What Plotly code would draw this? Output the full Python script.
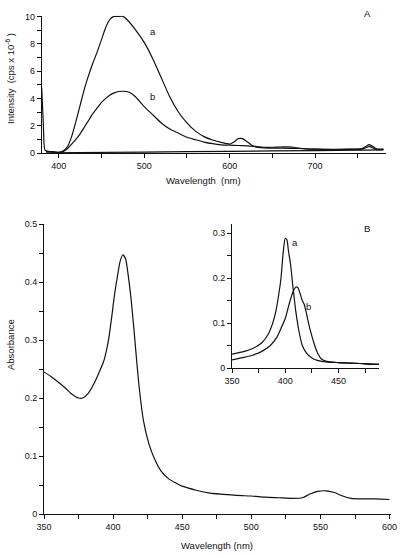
import plotly.graph_objects as go

W, H = 406, 557

# ---------------- Panel A: fluorescence emission ----------------
a_wl = [380, 382, 384, 390, 400, 405, 410, 415, 420, 425, 430, 435, 440, 445, 450, 455, 460, 465, 470,
        475, 480, 490, 500, 510, 520, 530, 540, 550, 560, 570, 580, 590, 600, 605, 610, 615, 620, 625,
        630, 640, 660, 680, 700, 720, 740, 755, 760, 763, 767, 772, 780]
a_int = [4.8, 2.0, 0.2, 0.1, 0.05, 0.15, 0.45, 1.2, 2.3, 3.5, 4.7, 5.7, 6.6, 7.4, 8.3, 9.2, 9.8, 10.0, 10.0,
         10.0, 9.75, 9.0, 8.1, 6.9, 5.5, 4.1, 3.0, 2.2, 1.6, 1.2, 0.95, 0.78, 0.65, 0.8, 1.05, 1.05, 0.85, 0.6,
         0.45, 0.38, 0.35, 0.33, 0.28, 0.27, 0.28, 0.32, 0.5, 0.62, 0.5, 0.3, 0.3]

b_wl = [385, 395, 400, 405, 410, 415, 420, 425, 430, 435, 440, 445, 450, 455, 460, 465, 470, 475, 480,
        485, 490, 500, 510, 520, 530, 540, 550, 560, 570, 580, 590, 600, 610, 620, 630, 640, 650, 660,
        670, 675, 685, 700, 720, 740, 755, 760, 763, 767, 772, 780]
b_int = [0.12, 0.08, 0.05, 0.1, 0.3, 0.65, 1.0, 1.4, 1.9, 2.4, 2.9, 3.3, 3.7, 4.0, 4.25, 4.4, 4.5, 4.52, 4.5,
         4.35, 4.1, 3.4, 2.8, 2.2, 1.75, 1.45, 1.15, 0.97, 0.8, 0.68, 0.6, 0.57, 0.55, 0.52, 0.48, 0.42, 0.42, 0.44,
         0.45, 0.42, 0.33, 0.28, 0.25, 0.26, 0.28, 0.4, 0.48, 0.38, 0.25, 0.25]

base_wl = [385, 500, 600, 700, 780]
base_int = [0.02, 0.07, 0.12, 0.18, 0.23]

# ---------------- Panel B: absorbance ----------------
abs_wl = [350, 355, 360, 365, 370, 375, 378, 382, 386, 390, 393, 395, 397, 399, 401, 403, 405, 407, 409,
          411, 413, 415, 417, 419, 422, 426, 430, 435, 440, 445, 450, 460, 470, 480, 490, 500, 510,
          520, 530, 537, 542, 548, 554, 560, 566, 572, 580, 590, 600]
abs_val = [0.245, 0.237, 0.228, 0.218, 0.207, 0.200, 0.200, 0.208, 0.224, 0.245, 0.262, 0.28, 0.305, 0.34,
           0.378, 0.408, 0.435, 0.447, 0.44, 0.41, 0.37, 0.32, 0.265, 0.215, 0.16, 0.12, 0.095, 0.073,
           0.061, 0.054, 0.048, 0.041, 0.036, 0.034, 0.032, 0.031, 0.029, 0.028, 0.027, 0.028, 0.034, 0.039,
           0.04, 0.037, 0.031, 0.027, 0.026, 0.026, 0.025]

ia_wl = [350, 360, 370, 378, 384, 388, 391, 394, 396, 398, 400, 401.5, 403, 405, 407, 410, 413, 416, 420,
         425, 430, 440, 450, 460, 470, 480, 488]
ia_val = [0.031, 0.036, 0.044, 0.056, 0.075, 0.098, 0.124, 0.165, 0.2, 0.255, 0.288, 0.285, 0.26, 0.23,
          0.185, 0.124, 0.08, 0.05, 0.033, 0.022, 0.017, 0.013, 0.012, 0.011, 0.01, 0.008, 0.008]

ib_wl = [350, 360, 370, 378, 386, 392, 396, 400, 404, 407, 410, 412, 414, 416, 418, 420, 422, 424, 427,
         430, 434, 440, 450, 460, 470, 480, 488]
ib_val = [0.018, 0.023, 0.029, 0.037, 0.05, 0.068, 0.088, 0.11, 0.145, 0.168, 0.18, 0.178, 0.165, 0.15,
          0.14, 0.12, 0.098, 0.079, 0.055, 0.035, 0.02, 0.014, 0.012, 0.011, 0.01, 0.009, 0.008]

FONT = "Liberation Sans, Arial, sans-serif"
INK = "#111"


def px_x(p):
    return p / W


def px_y(p):
    return 1 - p / H


fig = go.Figure()
for xs, ys, ax in [(a_wl, a_int, ("x", "y")), (b_wl, b_int, ("x", "y")), (base_wl, base_int, ("x", "y")),
                   (abs_wl, abs_val, ("x2", "y2")), (ia_wl, ia_val, ("x3", "y3")), (ib_wl, ib_val, ("x3", "y3"))]:
    fig.add_trace(go.Scatter(x=xs, y=ys, mode="lines", line=dict(color=INK, width=1.2, shape="spline", smoothing=0.6),
                             xaxis=ax[0], yaxis=ax[1], showlegend=False, hoverinfo="skip"))


def axis(domain, rng, dtick, minor, anchor, tick0=None):
    d = dict(domain=domain, range=rng, dtick=dtick, showline=True, linecolor=INK, linewidth=1,
             ticks="outside", ticklen=4, tickcolor=INK, tickwidth=1, showgrid=False, zeroline=False,
             automargin=False, anchor=anchor,
             tickfont=dict(family=FONT, size=9, color=INK),
             minor=dict(dtick=minor, ticks="outside", ticklen=4, tickcolor=INK, tickwidth=1, showgrid=False))
    if tick0 is not None:
        d["tick0"] = tick0
    return d


fig.update_layout(
    template="none",
    width=W, height=H, margin=dict(l=0, r=0, t=0, b=0, pad=0), autosize=False,
    paper_bgcolor="white", plot_bgcolor="rgba(0,0,0,0)",
    xaxis=axis([px_x(41.7), px_x(386)], [380, 783], 100, 50, "y", tick0=400),
    yaxis=axis([px_y(153), px_y(15.7)], [0, 10.05], 2, 1, "x"),
    xaxis2=axis([px_x(44), px_x(391)], [350, 601], 50, 25, "y2", tick0=350),
    yaxis2=axis([px_y(514), px_y(224)], [0, 0.5], 0.1, 0.05, "x2"),
    xaxis3=axis([px_x(232), px_x(379)], [350, 488], 50, 25, "y3", tick0=350),
    yaxis3=axis([px_y(368), px_y(224)], [0, 0.32], 0.1, 0.05, "x3"),
)

ann = []


def txt(s, x, y, xref="paper", yref="paper", size=9.5, angle=0):
    ann.append(dict(text=s, x=x, y=y, xref=xref, yref=yref, showarrow=False, textangle=angle,
                    font=dict(family=FONT, size=size, color=INK), xanchor="center", yanchor="middle"))


txt("Wavelength  (nm)", px_x(203), px_y(180))
txt("Wavelength (nm)", px_x(217), px_y(545))
txt("Intensity  (cps x 10<sup>-6</sup> )", px_x(10), px_y(79), angle=-90)
txt("Absorbance", px_x(10), px_y(345), angle=-90)
txt("A", px_x(367), px_y(13))
txt("B", px_x(367), px_y(228))
txt("a", 510, 8.9, "x", "y")
txt("b", 510, 4.1, "x", "y")
txt("a", 409.4, 0.278, "x3", "y3")
txt("b", 421.7, 0.136, "x3", "y3")
fig.update_layout(annotations=ann)

fig.write_html("out.html", config={"displayModeBar": False},
               post_script="document.body.style.margin='0';document.body.style.overflow='hidden';")
